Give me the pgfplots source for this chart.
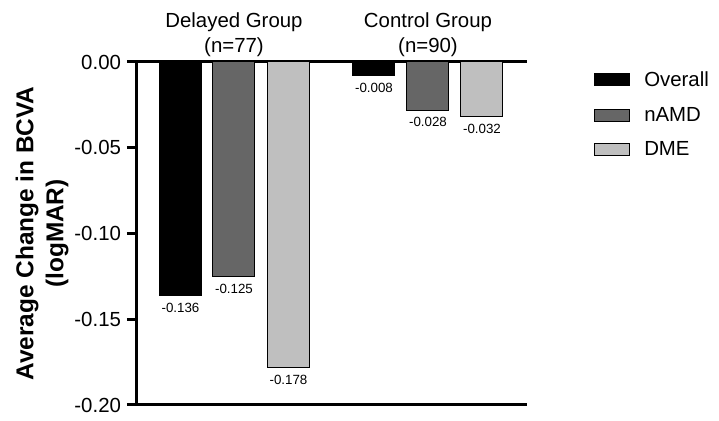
\documentclass[border=0pt]{standalone}
\usepackage{pgfplots}
\pgfplotsset{compat=1.18}
\usepackage{fontspec}
\setmainfont{Liberation Sans}
\definecolor{midgray}{HTML}{666666}
\definecolor{lightgray}{HTML}{BFBFBF}
\pgfplotsset{
    boxlegend/.style={
        legend image code/.code={\draw[##1] (0pt,-4.5pt) rectangle (26pt,4.5pt); \path (35pt,0pt);}
    }
}
\begin{document}
\begin{tikzpicture}
\path[use as bounding box] (-102.75pt,-12pt) rectangle (436.5pt,303.75pt);
\begin{axis}[
    at={(0,0)}, anchor=south west,
    scale only axis,
    width=292.5pt, height=257.25pt,
    xmin=0, xmax=390,
    ymin=-0.2, ymax=0,
    axis x line*=box,
    axis y line*=left,
    axis line style={line width=2.25pt},
    xtick=\empty,
    ytick={-0.2,-0.15,-0.1,-0.05,0},
    yticklabels={-0.20,-0.15,-0.10,-0.05,0.00},
    tick align=outside,
    major tick length=7.5pt,
    tick style={line width=2.25pt, black},
    yticklabel style={font=\fontsize{15.3}{17}\selectfont, xshift=-1pt},
    ylabel={Average Change in BCVA\\(logMAR)},
    ylabel style={at={(axis description cs:-0.243,0.5)}, anchor=center,
        align=center, font=\bfseries\fontsize{18.3}{22.5}\selectfont},
    clip=false,
    point meta=explicit symbolic,
    nodes near coords,
    every node near coord/.append style={font=\fontsize{10}{12}\selectfont, anchor=north, yshift=-2pt},
    legend style={at={(axis description cs:1,1)}, anchor=north west,
        xshift=50pt, yshift=-5pt, draw=none, fill=none,
        font=\fontsize{15.3}{17}\selectfont, row sep=10pt, inner sep=0pt},
    legend cell align=left,
]
\addplot[ybar, bar width=42, bar shift=0pt, fill=black, draw=black, line width=0.75pt, boxlegend]
    coordinates {(43.5,-0.136) [-0.136] (237,-0.008) [-0.008]};
\addlegendentry{Overall}
\addplot[ybar, bar width=42, bar shift=0pt, fill=midgray, draw=black, line width=0.75pt, boxlegend]
    coordinates {(97,-0.125) [-0.125] (291,-0.028) [-0.028]};
\addlegendentry{nAMD}
\addplot[ybar, bar width=42, bar shift=0pt, fill=lightgray, draw=black, line width=0.75pt, boxlegend]
    coordinates {(151.5,-0.178) [-0.178] (345,-0.032) [-0.032]};
\addlegendentry{DME}
\node[align=center, anchor=south, inner sep=0pt, yshift=4pt,
    font=\fontsize{15.3}{18.6}\selectfont] at (axis cs:97,0) {Delayed Group\\(n=77)};
\node[align=center, anchor=south, inner sep=0pt, yshift=4pt,
    font=\fontsize{15.3}{18.6}\selectfont] at (axis cs:291,0) {Control Group\\(n=90)};
\end{axis}
\end{tikzpicture}
\end{document}
